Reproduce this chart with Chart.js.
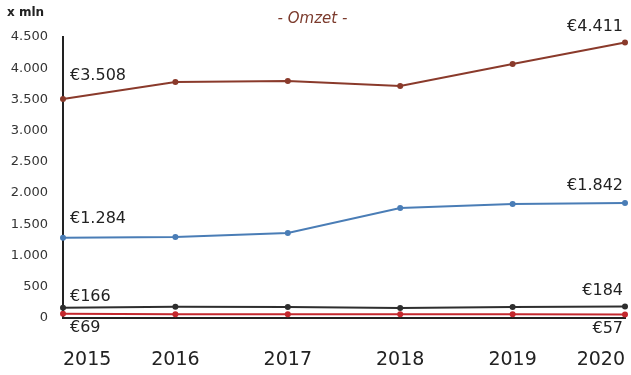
<!DOCTYPE html>
<html>
<head>
<meta charset="utf-8">
<script src="https://cdn.jsdelivr.net/npm/chart.js@4"></script>
<style>
  html, body { margin: 0; padding: 0; background: #fff; }
  #wrap { width: 631px; height: 375px; }
</style>
</head>
<body>
<div id="wrap"><canvas id="omzetChart" width="631" height="375"></canvas></div>
<script>
const years = ['2015', '2016', '2017', '2018', '2019', '2020'];
const yTicks = [0, 500, 1000, 1500, 2000, 2500, 3000, 3500, 4000, 4500];

const omzetTotaal = [3508, 3779, 3795, 3715, 4068, 4411];
const omzetBlauw = [1284, 1297, 1361, 1762, 1826, 1842];
const omzetZwart = [166, 180, 175, 160, 178, 184];
const omzetRood = [69, 62, 60, 60, 60, 57];

const FONT = "'DejaVu Sans', 'Open Sans', sans-serif";

// dutch thousands separator
function nl(n) {
  return String(n).replace(/\B(?=(\d{3})+(?!\d))/g, '.');
}

// euro labels at first and last point of every line
const endLabels = {
  id: 'endLabels',
  afterDatasetsDraw(chart) {
    const ctx = chart.ctx;
    ctx.save();
    ctx.font = '16px ' + FONT;
    ctx.fillStyle = '#222';
    chart.data.datasets.forEach((ds, i) => {
      const pts = chart.getDatasetMeta(i).data;
      [0, pts.length - 1].forEach((idx, k) => {
        const p = pts[idx];
        const first = k === 0;
        ctx.textAlign = first ? 'left' : 'right';
        ctx.textBaseline = 'middle';
        const dx = first ? 7 : -2;
        const dy = ds.labelPos === 'below' ? 14 : -ds.labelGap[k];
        ctx.fillText('€' + nl(ds.data[idx]), p.x + dx, p.y + dy);
      });
    });
    ctx.restore();
  }
};

// unit note in the top left corner
const unitNote = {
  id: 'unitNote',
  afterDraw(chart) {
    const ctx = chart.ctx;
    ctx.save();
    ctx.font = 'bold 12px ' + FONT;
    ctx.fillStyle = '#222';
    ctx.textAlign = 'left';
    ctx.textBaseline = 'middle';
    ctx.fillText('x mln', 7, 13);
    ctx.restore();
  }
};

function line(label, data, color, extra) {
  return Object.assign({
    label: label,
    data: data,
    borderColor: color,
    backgroundColor: color,
    borderWidth: 2,
    pointRadius: 3,
    pointBackgroundColor: color,
    pointBorderWidth: 0,
    fill: false,
    tension: 0
  }, extra || {});
}

const ctx = document.getElementById('omzetChart').getContext('2d');
new Chart(ctx, {
  type: 'line',
  data: {
    labels: years,
    datasets: [
      line('Omzet', omzetTotaal, '#8a3a2b', { labelGap: [23, 16] }),
      line('Blauw', omzetBlauw, '#4a7db6', { labelGap: [19, 17] }),
      line('Zwart', omzetZwart, '#2e2e2e', { labelGap: [11, 16] }),
      line('Rood', omzetRood, '#c3272d', { labelPos: 'below' })
    ]
  },
  options: {
    responsive: false,
    animation: false,
    layout: { padding: { left: 0, right: 6, top: 0, bottom: 0 } },
    plugins: {
      legend: { display: false },
      tooltip: { enabled: false },
      title: {
        display: true,
        text: '- Omzet -',
        color: '#7b3a2c',
        font: { family: FONT, size: 15, style: 'italic', weight: 'normal' },
        padding: { top: 10, bottom: 9 }
      }
    },
    scales: {
      x: {
        offset: false,
        afterFit(scale) {
          // points sit right on the plot edges
          scale.height = 57;
          scale.paddingLeft = 0;
          scale.paddingRight = 0;
        },
        grid: { display: false, drawTicks: false },
        border: { display: true, color: '#222', width: 2 },
        ticks: {
          color: '#222',
          align: 'inner',
          font: { family: FONT, size: 19 },
          padding: 31,
          maxRotation: 0
        }
      },
      y: {
        min: 0,
        max: 4500,
        afterBuildTicks(scale) {
          scale.ticks = yTicks.map(v => ({ value: v }));
        },
        afterFit(scale) {
          scale.width = 63;
        },
        grid: { display: false, drawTicks: false },
        border: { display: true, color: '#222', width: 2 },
        ticks: {
          color: '#333',
          font: { family: FONT, size: 13 },
          padding: 15,
          callback: v => nl(v)
        }
      }
    }
  },
  plugins: [endLabels, unitNote]
});
</script>
</body>
</html>
